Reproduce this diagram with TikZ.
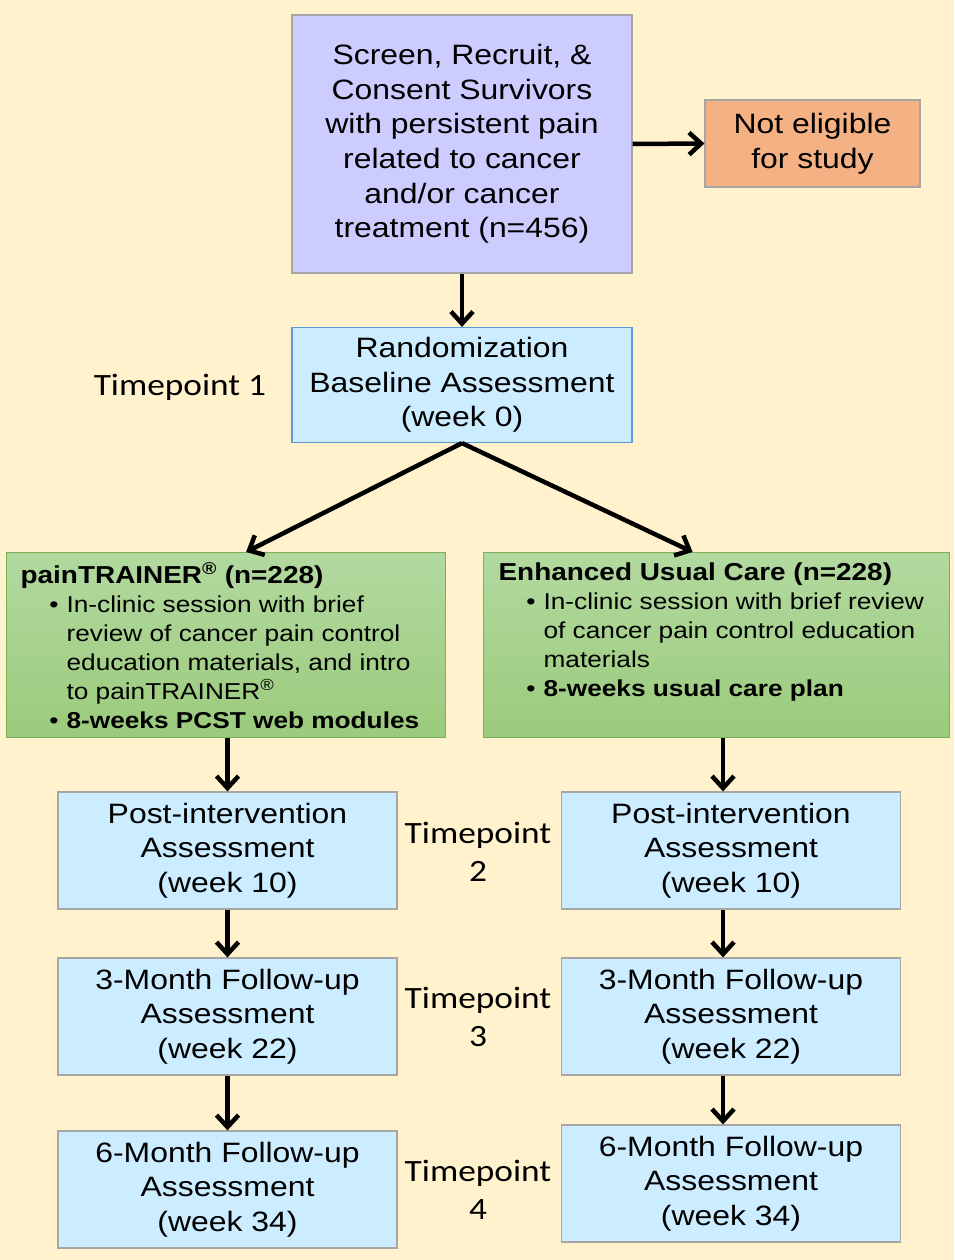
\documentclass[tikz,border=0pt]{standalone}
\usepackage{fontspec}
\setmainfont{Liberation Sans}[FakeStretch=1.14]
\newfontfamily\tpfont{Carlito}[FakeStretch=1.14]
\usepackage{enumitem}
\usetikzlibrary{arrows.meta,calc}

\definecolor{bgyellow}{HTML}{FFF2CC}
\definecolor{screenfill}{HTML}{CCCCFF}
\definecolor{exclfill}{HTML}{F4B183}
\definecolor{assessfill}{HTML}{CCECFF}
\definecolor{randline}{HTML}{5B9BD5}
\definecolor{boxline}{HTML}{A6A6A6}
\definecolor{armtop}{HTML}{B2D99F}
\definecolor{armbottom}{HTML}{9BCB7C}
\definecolor{armline}{HTML}{77B15A}

\tikzset{
  flowbox/.style={draw=boxline, line width=1.2pt, align=center, inner sep=0pt,
    font=\fontsize{28}{34.6}\selectfont},
  assessbox/.style={flowbox, fill=assessfill, minimum width=339pt, minimum height=117pt},
  armbox/.style={draw=armline, line width=1.2pt, top color=armtop, bottom color=armbottom,
    inner sep=0pt, minimum height=185pt, anchor=north west,
    font=\fontsize{23}{29}\selectfont},
  tplabel/.style={font=\tpfont\fontsize{31}{38}\selectfont, align=center, text=black},
  flowarrow/.style={line width=4.5pt, -{Straight Barb[length=12pt,width=22pt]}}
}
\setlist[itemize]{label=\textbullet, itemsep=0pt, topsep=0pt, parsep=0pt, partopsep=0pt, labelsep=8pt}
\newcommand{\armhead}[1]{{\fontsize{24.5}{29}\selectfont\textbf{#1}}}

\begin{document}
\begin{tikzpicture}[x=1pt,y=-1pt]
		%%%%% START %%%%%
		
		\fill[bgyellow] (0,0) rectangle (954,1260);
		\useasboundingbox (0,0) rectangle (954,1260);
		
		\node[flowbox, fill=screenfill, minimum width=340pt, minimum height=258pt] (screen) at (462,144)
			{Screen, Recruit, \&\\Consent Survivors\\with persistent pain\\related to cancer\\and/or cancer\\treatment (n=456)};
		\node[flowbox, fill=exclfill, minimum width=215pt, minimum height=87pt] (noteligible) at (812.5,143.5)
			{Not eligible\\for study};
		
		\node[assessbox, draw=randline, minimum width=340pt, minimum height=115pt] (random) at (462,385)
			{Randomization\\Baseline Assessment\\(week 0)};
		\node[tplabel] (tp1) at (180,387) {Timepoint 1};
		
		% study arms
		\node[armbox, minimum width=439pt] (pcst) at (6,552) {%
			\begin{minipage}[c][185pt][t]{411pt}
			\vspace*{10pt}\armhead{painTRAINER\textsuperscript{®} (n=228)}
			\begin{itemize}[leftmargin=46pt]
				\item In-clinic session with brief\\review of cancer pain control\\education materials, and intro\\to painTRAINER\textsuperscript{®}
				\item \textbf{8-weeks PCST web modules}
			\end{itemize}
			\end{minipage}};
		\node[armbox, minimum width=466pt] (euc) at (483,552) {%
			\begin{minipage}[c][185pt][t]{436pt}
			\vspace*{10pt}\armhead{Enhanced Usual Care (n=228)}
			\begin{itemize}[leftmargin=45pt]
				\item In-clinic session with brief review\\of cancer pain control education\\materials
				\item \textbf{8-weeks usual care plan}
			\end{itemize}
			\end{minipage}};
		
		% assessments
		\node[assessbox] (postl) at (227.5,850.5) {Post-intervention\\Assessment\\(week 10)};
		\node[assessbox] (postr) at (731,850.5) {Post-intervention\\Assessment\\(week 10)};
		\node[tplabel] (tp2) at (478,852) {Timepoint\\2};
		
		\node[assessbox] (threel) at (227.5,1016.5) {3-Month Follow-up\\Assessment\\(week 22)};
		\node[assessbox] (threer) at (731,1016.5) {3-Month Follow-up\\Assessment\\(week 22)};
		\node[tplabel] (tp3) at (478,1017) {Timepoint\\3};
		
		\node[assessbox] (sixl) at (227.5,1189.5) {6-Month Follow-up\\Assessment\\(week 34)};
		\node[assessbox] (sixr) at (731,1183.5) {6-Month Follow-up\\Assessment\\(week 34)};
		\node[tplabel] (tp4) at (478,1190) {Timepoint\\4};
		
		% arrows
		\draw[flowarrow] (screen.east) -- (noteligible.west);
		\draw[flowarrow] (screen.south) -- (random.north);
		\draw[flowarrow] (random.south) -- ($(pcst.north)+(20,0)$);
		\draw[flowarrow] (random.south) -- ($(euc.north)+(-24,0)$);
		
		\draw[flowarrow] (pcst.south -| postl.north) -- (postl.north);
		\draw[flowarrow] (postl.south) -- (threel.north);
		\draw[flowarrow] (threel.south) -- (sixl.north);
		
		\draw[flowarrow] ([xshift=-8pt]postr.north |- euc.south) -- ([xshift=-8pt]postr.north);
		\draw[flowarrow] ([xshift=-8pt]postr.south) -- ([xshift=-8pt]threer.north);
		\draw[flowarrow] ([xshift=-8pt]threer.south) -- ([xshift=-8pt]sixr.north);
		
		%%%%% END %%%%%
\end{tikzpicture}
\end{document}
